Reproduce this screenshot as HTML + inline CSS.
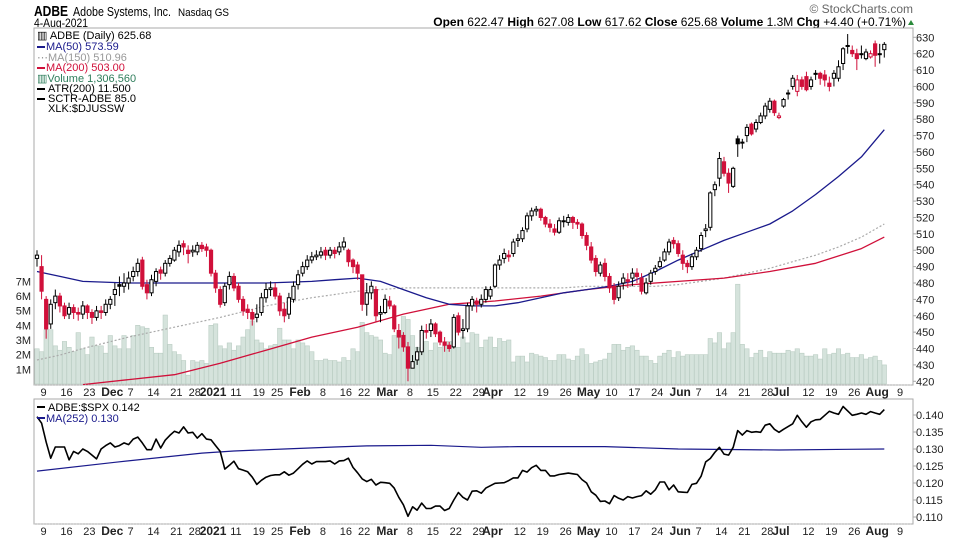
<!DOCTYPE html>
<html><head><meta charset="utf-8"><title>ADBE Daily Chart</title>
<style>
html,body{margin:0;padding:0;background:#fff;overflow:hidden;}
svg{display:block;font-family:"Liberation Sans",sans-serif;}
</style></head>
<body>
<svg id="chart" width="960" height="540" viewBox="0 0 960 540" xmlns="http://www.w3.org/2000/svg">
<defs>
<clipPath id="mainClip"><rect x="34" y="28" width="879" height="357"/></clipPath>
<clipPath id="lowClip"><rect x="34" y="399" width="879" height="125"/></clipPath>
</defs>
<g>
<text x="34" y="16" font-size="15" font-weight="bold" fill="#000" textLength="34" lengthAdjust="spacingAndGlyphs">ADBE</text>
<text x="73" y="16" font-size="13" fill="#000" textLength="98" lengthAdjust="spacingAndGlyphs">Adobe Systems, Inc.</text>
<text x="178" y="16" font-size="11" fill="#000" textLength="51" lengthAdjust="spacingAndGlyphs">Nasdaq GS</text>
<text x="34" y="27" font-size="11.5" fill="#000" textLength="54" lengthAdjust="spacingAndGlyphs">4-Aug-2021</text>
<text x="913" y="13" font-size="12" fill="#666" text-anchor="end">© StockCharts.com</text>
<text x="906" y="26" font-size="12" fill="#000" text-anchor="end"><tspan font-weight="bold">Open</tspan> 622.47  <tspan font-weight="bold">High</tspan> 627.08  <tspan font-weight="bold">Low</tspan> 617.62  <tspan font-weight="bold">Close</tspan> 625.68  <tspan font-weight="bold">Volume</tspan> 1.3M  <tspan font-weight="bold">Chg</tspan> +4.40 (+0.71%)</text>
<polygon points="908,25 914,25 911,20" fill="#2a8a3a"/>
</g>
<rect x="34" y="28" width="879" height="357" fill="#fff" stroke="#aaa"/>
<rect x="34" y="399" width="879" height="125" fill="#fff" stroke="#aaa"/>
<g id="volG" clip-path="url(#mainClip)"></g>
<g id="maG" clip-path="url(#mainClip)"></g>
<g id="candleG" clip-path="url(#mainClip)"></g>
<g id="lowG" clip-path="url(#lowClip)"></g>
<g id="axisG"></g>
<g font-size="11">
<text x="37" y="39" fill="#000">▥ ADBE (Daily) 625.68</text>
<rect x="37" y="46" width="8" height="2" fill="#1a1a8c"/><text x="46" y="50" fill="#1a1a8c">MA(50) 573.59</text>
<text x="37" y="61" fill="#999">⋯MA(150) 510.96</text>
<rect x="37" y="67" width="8" height="2" fill="#d0103a"/><text x="46" y="71" fill="#d0103a">MA(200) 503.00</text>
<text x="37" y="82" fill="#2e7d5b">▥Volume 1,306,560</text>
<rect x="37" y="88" width="8" height="2" fill="#000"/><text x="48" y="92" fill="#000">ATR(200) 11.500</text>
<rect x="37" y="98" width="8" height="2" fill="#000"/><text x="48" y="102" fill="#000">SCTR-ADBE 85.0</text>
<text x="48" y="112" fill="#000">XLK:$DJUSSW</text>
</g>
<g font-size="11">
<rect x="37" y="406" width="8" height="2" fill="#000"/><text x="48" y="411" fill="#000">ADBE:$SPX 0.142</text>
<rect x="37" y="417" width="8" height="2" fill="#1a1a8c"/><text x="46" y="422" fill="#1a1a8c">MA(252) 0.130</text>
</g>
</svg>
<script>
const opens=[495,490,470,455,468,472,466,461,465,462,461,466,462,459,463,462,
467,473,479,478,480,484,487,494,479,474,481,488,486,492,494,499,504,500,499,499,503,502,
500,486,476,468,479,484,478,470,464,462,459,462,471,476,477,472,464,461,470,
479,486,490,494,496,497,500,497,500,499,502,500,494,491,485,467,474,476,461,
462,469,466,451,448,441,428,433,438,451,451,455,450,444,442,441,460,451,452,466,469,467,470,
472,478,491,495,497,498,506,507,513,521,524,525,520,516,513,511,518,517,520,517,516,
509,502,495,486,492,484,478,471,480,482,483,486,483,474,481,487,490,494,499,506,
504,497,492,490,496,501,512,514,537,544,554,547,539,568,566,570,577,574,578,582,586,591,581,588,596,600,597,604,606,600,608,608,607,602,605,605,614,625,622,620,620,617,618,626,620,622.47];
const highs=[500,497,472,470,476,474,468,468,467,465,469,467,464,466,466,470,
472,480,484,486,487,490,495,496,482,485,489,490,494,497,502,506,506,503,503,505,505,504,
501,488,478,480,487,486,480,472,467,464,467,474,480,481,480,474,468,474,481,
488,493,497,499,500,502,502,502,502,505,508,501,495,493,485,480,481,478,466,
473,472,467,455,450,444,436,441,454,455,458,456,451,447,444,461,462,458,468,472,471,473,478,
478,492,497,501,500,507,510,514,523,526,527,526,521,519,516,520,521,522,521,519,517,
511,505,497,493,495,486,480,481,486,486,489,489,486,483,488,491,496,501,507,508,
506,500,494,498,502,511,516,536,542,560,557,550,551,570,568,577,578,580,584,590,593,592,584,593,598,607,607,606,609,606,610,609,610,606,610,616,624,632,625,623,625,623,622,628,626,627.08];
const lows=[490,470,446,452,464,462,458,458,458,457,458,458,455,457,458,460,
464,466,472,474,476,481,484,476,470,472,478,482,484,490,493,496,497,492,496,497,499,496,
484,474,465,466,476,475,468,460,458,454,456,460,468,472,470,460,456,458,468,
476,484,488,492,494,495,494,495,495,497,500,490,486,482,463,460,470,456,456,
461,464,450,440,438,420,428,430,436,446,447,447,442,438,438,440,448,446,450,463,462,465,468,
470,477,488,492,493,496,502,505,511,518,521,518,514,511,509,510,514,515,513,513,507,
500,492,484,484,481,474,467,469,476,477,478,480,473,473,479,485,489,493,497,501,
496,488,486,488,494,499,508,512,533,539,545,535,538,557,562,566,570,572,577,580,584,582,580,587,592,598,594,598,597,598,604,601,600,597,600,603,610,620,618,610,617,616,617,612,614,617.62];
const closes=[497,475,452,467,472,466,460,465,462,461,466,462,459,463,462,467,
470,476,478,480,483,487,492,478,474,482,487,486,492,495,500,503,502,498,500,503,501,500,
486,477,467,478,484,477,470,463,462,458,461,471,476,477,472,463,460,471,478,
485,490,494,496,497,499,497,500,498,502,505,493,490,486,467,474,478,460,462,
470,466,452,447,441,428,432,438,451,450,455,449,444,442,440,459,450,452,466,470,467,470,476,
476,491,494,498,496,505,507,512,521,524,525,520,516,514,511,518,518,520,517,516,509,
503,494,487,491,484,477,470,478,483,481,486,484,475,480,486,489,493,499,505,504,
498,492,490,496,500,509,513,535,540,556,547,541,550,565,566,575,571,578,582,588,591,584,582,592,596,605,604,600,598,604,608,605,604,600,608,612,623,625,620,617,620,621,620,619,620,625.68];
const volumes=[2.4,2.2,3.7,3.7,2.6,2.3,2.9,2.5,2.2,3.5,2.4,2.0,3.2,2.6,2.6,2.1,
3.3,2.6,2.4,3.3,2.4,3.3,4.0,3.9,3.8,2.5,2.1,2.1,4.7,2.7,2.2,2.0,1.6,0.6,1.6,1.5,1.6,1.4,
4.0,4.1,2.6,2.4,2.8,2.3,2.6,3.2,3.7,4.3,3.0,2.8,2.4,2.6,2.7,3.8,3.0,3.0,2.4,
3.0,2.8,2.6,2.2,1.6,1.6,1.7,1.6,1.6,1.5,1.8,1.6,2.4,2.2,4.2,3.5,3.3,3.2,3.0,
2.1,2.0,3.3,3.5,4.6,4.4,3.3,2.5,2.4,2.9,2.3,2.8,2.5,2.6,2.9,2.5,2.5,3.2,2.8,3.5,3.4,2.5,3.0,
3.2,2.5,3.1,2.9,3.0,1.5,1.9,1.9,1.5,2.1,2.0,1.9,1.8,1.6,1.6,2.0,2.0,1.7,1.6,1.9,2.4,
2.0,1.4,1.5,1.6,1.7,2.1,2.7,2.7,2.3,2.5,2.6,2.3,1.9,1.9,1.6,1.4,1.9,2.1,2.3,1.8,
2.2,1.9,2.0,2.0,2.0,2.0,2.0,3.1,2.8,3.5,2.4,2.8,3.5,6.8,2.7,2.4,1.8,2.1,2.3,1.8,2.2,2.1,2.1,2.1,2.3,2.2,2.4,2.1,1.9,1.9,2.0,1.7,2.4,2.0,2.1,2.4,2.0,2.1,1.8,1.8,2.0,1.7,1.8,1.9,1.6,1.3];
const maDays=[0,5,10,20,30,40,50,60,65,70,75,80,85,90,95,100,105,110,115,120,125,130,135,140,145,150,155,160,165,170,175,180,185];
const ma50=[487,484,481,480,480,480,480,481,482,483,481,476,471,467,466,466,468,471,474,476,478,481,487,494,500,506,511,516,524,534,545,557,573.6];
const ma150=[433,436,440,447,453,459,466,471,473,475,476,477,477,477,477,477,477,477,477,478,478,478,478,479,481,483,486,489,493,497,502,508,516];
const ma200Days=[10,20,30,40,50,60,70,80,90,100,110,120,130,140,150,160,170,180,185];
const ma200=[418,421,424,431,439,447,453,461,467,469,472,476,479,481,483,487,492,501,508];
const ratio=[.1395,.1376,.1320,.1273,.1306,.1306,.1306,.1268,.1293,.1286,.1300,.1293,.1282,.1271,.1300,.1310,.1318,.1306,.1310,.1318,
.1313,.1329,.1335,.1318,.1298,.1298,.1329,.1303,.1326,.1340,.1352,.1347,.1365,.1347,.1349,.1332,.1345,.1329,.1327,.1310,
.1293,.1241,.1252,.1264,.1242,.1238,.1233,.1217,.1196,.1208,.1217,.1222,.1224,.1224,.1233,.1223,.1229,.1242,.1255,.1265,
.1256,.1263,.1263,.1263,.1265,.1256,.1265,.1266,.1273,.1246,.1230,.1212,.1204,.1211,.1194,.1202,.1201,.1199,.1185,.1158,
.1136,.1102,.1130,.1120,.1141,.1125,.1125,.1132,.1132,.1119,.1125,.1150,.1172,.1158,.1150,.1176,
.1177,.1170,.1185,.1192,.1199,.1200,.1201,.1207,.1215,.1215,.1237,.1232,.1245,.1252,.1237,.1237,.1221,.1221,.1225,.1227,
.1229,.1227,.1225,.1210,.1200,.1174,.1164,.1146,.1147,.1139,.1163,.1155,.1150,.1160,.1156,.1160,.1163,.1177,.1167,.1180,
.1203,.1203,.1180,.1194,.1174,.1173,.1172,.1196,.1199,.1220,.1262,.1272,.1290,.1305,.1285,.1282,.1305,.1354,.1341,.1354,
.1349,.1351,.1349,.1370,.1374,.1358,.1349,.1358,.1366,.1374,.1399,.1380,.1364,.1380,.1386,.1387,.1399,.1411,.1406,.1402,
.1425,.1412,.1399,.1402,.1406,.1402,.1410,.1406,.1402,.1416];
const ratioMaDays=[0,17,36,43,54,65,72,86,97,105,124,140,162,177,185];
const ratioMa=[.1235,.1261,.1288,.1294,.1300,.1306,.1309,.1311,.1305,.1307,.1307,.1300,.1297,.1299,.1300];
const priceTicks=[630,620,610,600,590,580,570,560,550,540,530,520,510,500,490,480,470,460,450,440,430,420];
const volTicks=[1,2,3,4,5,6,7];
const ratioTicks=[0.140,0.135,0.130,0.125,0.120,0.115,0.110];
const dateLabels=["9","16","23","Dec","7","14","21","28","2021","11","19","25","Feb","8","16","22","Mar","8","15","22","29","Apr","12","19","26","May","10","17","24","Jun","7","14","21","28","Jul","12","19","26","Aug","9"];
const dateLabelDays=[1,6,11,16,20,25,30,34,38,43,48,52,57,62,67,71,76,81,86,91,96,99,105,110,115,120,125,130,135,140,144,149,154,159,162,168,173,178,183,188];
const boldLabels=["Dec","2021","Feb","Mar","Apr","May","Jun","Jul","Aug"];

const NS="http://www.w3.org/2000/svg";
const xOf=i=>37+i*4.58;
const yP=p=>37.3+(630-p)*1.638;
const yV=v=>384-v*14.67;
const yR=r=>415+(0.140-r)*3400;
function mk(tag,attrs,parent){const e=document.createElementNS(NS,tag);for(const k in attrs)e.setAttribute(k,attrs[k]);parent.appendChild(e);return e;}
const volG=document.getElementById('volG'),maG=document.getElementById('maG'),candleG=document.getElementById('candleG'),lowG=document.getElementById('lowG'),axisG=document.getElementById('axisG');

volumes.forEach((v,i)=>{
  const r=mk('rect',{x:xOf(i)-2.2,y:yV(v),width:4.4,height:384-yV(v),fill:'#d5e3dc',stroke:'#b9ccc2','stroke-width':0.6},volG);
  
  
});
function line(days,vals,yf,attrs,parent,name){
  const pts=vals.map((v,k)=>xOf(days?days[k]:k).toFixed(1)+','+yf(v).toFixed(1)).join(' ');
  const p=mk('polyline',Object.assign({points:pts,fill:'none','stroke-linejoin':'round'},attrs),parent);
  
  
}
line(maDays,ma150,yP,{stroke:'#aaa','stroke-width':1.2,'stroke-dasharray':'2,2'},maG,'ma150-line');
line(ma200Days,ma200,yP,{stroke:'#d0103a','stroke-width':1.3},maG,'ma200-line');
line(maDays,ma50,yP,{stroke:'#1a1a8c','stroke-width':1.3},maG,'ma50-line');

closes.forEach((c,i)=>{
  const o=opens[i],prev=i>0?closes[i-1]:o;
  const col=c<prev?'#d0103a':'#000';
  const x=xOf(i);
  const w=mk('line',{x1:x,x2:x,y1:yP(highs[i]),y2:yP(lows[i]),stroke:col,'stroke-width':1},candleG);
  
  
  const top=yP(Math.max(o,c)),bot=yP(Math.min(o,c));
  const b=mk('rect',{x:x-1.6,y:top,width:3.2,height:Math.max(bot-top,1),fill:c>o?'#fff':col,stroke:col,'stroke-width':1},candleG);
  
  
});

line(ratioMaDays,ratioMa,yR,{stroke:'#1a1a8c','stroke-width':1.2},lowG,'ratio-ma252-line');
line(null,ratio,yR,{stroke:'#000','stroke-width':1.6},lowG,'ratio-adbe-spx-line');

priceTicks.forEach(p=>{
  const t=mk('text',{x:916,y:yP(p)+4,'font-size':11,fill:'#222'},axisG);t.textContent=p;
  
  
  mk('line',{x1:913,x2:916,y1:yP(p),y2:yP(p),stroke:'#aaa'},axisG);
});
volTicks.forEach(v=>{
  const t=mk('text',{x:31,y:yV(v)+4,'font-size':11,fill:'#222','text-anchor':'end'},axisG);t.textContent=v+'M';
  
  
});
ratioTicks.forEach(r=>{
  const t=mk('text',{x:916,y:yR(r)+4,'font-size':11,fill:'#222'},axisG);t.textContent=r.toFixed(3);
  
  
  mk('line',{x1:913,x2:916,y1:yR(r),y2:yR(r),stroke:'#aaa'},axisG);
});
mk('line',{x1:34,x2:913,y1:385,y2:385,stroke:'#bbb','stroke-dasharray':'1,2'},axisG);
mk('line',{x1:34,x2:913,y1:524,y2:524,stroke:'#bbb','stroke-dasharray':'1,2'},axisG);
dateLabels.forEach((s,k)=>{
  const b=boldLabels.includes(s);
  [396,535].forEach(yy=>{
    const t=mk('text',{x:xOf(dateLabelDays[k])+2,y:yy,'font-size':b?12:11,'font-weight':b?'bold':'normal',fill:'#222','text-anchor':'middle'},axisG);
    t.textContent=s;
    
    
  });
});
</script>
</body></html>
